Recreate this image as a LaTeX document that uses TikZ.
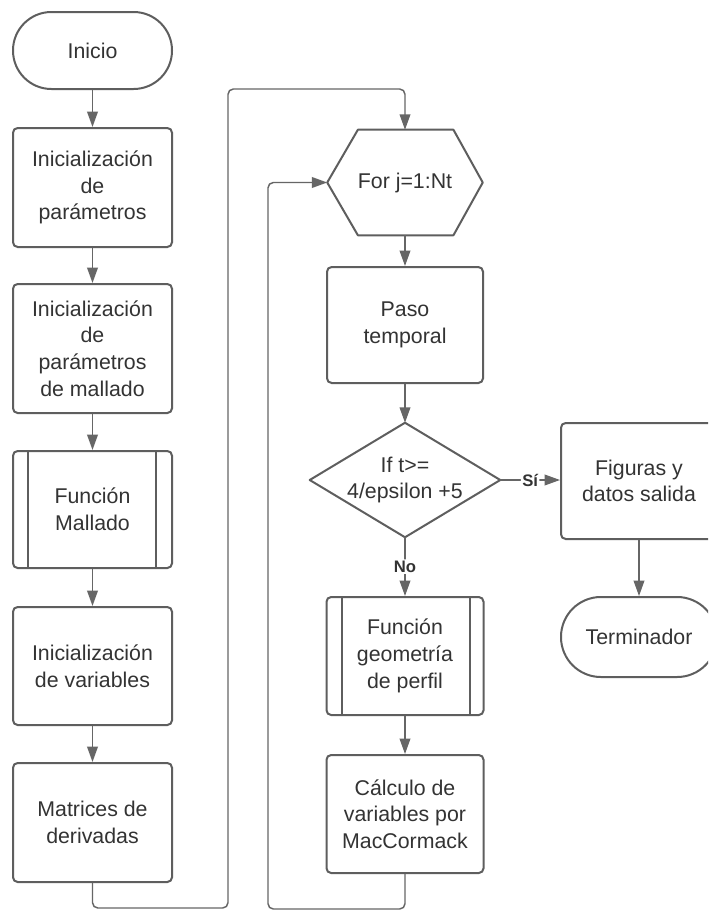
\documentclass[tikz,border=0pt]{standalone}
\usepackage{fontspec}
\setmainfont{Liberation Sans}
\usetikzlibrary{arrows.meta}
\definecolor{edgecol}{HTML}{5E5E5E}
\definecolor{linecol}{HTML}{666666}
\definecolor{txtcol}{HTML}{333333}
\tikzset{
  txt/.style={align=center, text=txtcol, inner sep=0pt, font=\fontsize{16}{20}\selectfont},
  box/.style={txt, draw=edgecol, line width=1.5pt, rounded corners=3.5pt},
  shp/.style={draw=edgecol, line width=1.5pt, line join=round},
  flow/.style={draw=linecol, line width=1.1pt, rounded corners=4pt, -{Triangle[length=11.5pt,width=8pt]}},
  lbl/.style={fill=white, text=txtcol, inner sep=1pt, font=\bfseries\fontsize{12.5}{14}\selectfont}
}
\begin{document}
\begin{tikzpicture}[x=0.75pt,y=-0.75pt]
\useasboundingbox (0,0) rectangle (708,910);
\clip (0,0) rectangle (708,910);
\fill[white] (0,0) rectangle (708,910);

% left column
\node[box, rounded corners=28.8pt, minimum width=119.25pt, minimum height=57.75pt] (ini) at (92.5,50.5) {Inicio};
\node[box, minimum width=119.25pt, minimum height=89.25pt] (b1) at (92.5,187.5) {Inicialización\\de\\parámetros};
\node[box, minimum width=119.25pt, minimum height=96.75pt] (b2) at (92.5,348.5) {Inicialización\\de\\parámetros\\de mallado};
\node[box, minimum width=119.25pt, minimum height=87.75pt] (b3) at (92.5,509.5) {Función\\Mallado};
\draw[shp] ([xshift=12pt]b3.north west) -- ([xshift=12pt]b3.south west);
\draw[shp] ([xshift=-13pt]b3.north east) -- ([xshift=-13pt]b3.south east);
\node[box, minimum width=119.25pt, minimum height=88.5pt] (b4) at (92.5,666) {Inicialización\\de variables};
\node[box, minimum width=119.25pt, minimum height=89.25pt] (b5) at (92.5,822.5) {Matrices de\\derivadas};

% right column
\node[txt, minimum width=116.25pt, minimum height=78.75pt] (hex) at (405,182.5) {For j=1:Nt};
\draw[shp] ([xshift=23pt]hex.north west) -- ([xshift=-22pt]hex.north east) -- (hex.east)
  -- ([xshift=-22pt]hex.south east) -- ([xshift=23pt]hex.south west) -- (hex.west) -- cycle;
\node[box, minimum width=117pt, minimum height=87pt] (paso) at (405,325) {Paso\\temporal};
\node[txt, minimum width=142.5pt, minimum height=85.5pt] (dia) at (405,480) {If t>=\\4/epsilon +5};
\draw[shp] (dia.north) -- (dia.east) -- (dia.south) -- (dia.west) -- cycle;
\node[box, minimum width=117.75pt, minimum height=88.5pt] (geo) at (405,656) {Función\\geometría\\de perfil};
\draw[shp] ([xshift=12pt]geo.north west) -- ([xshift=12pt]geo.south west);
\draw[shp] ([xshift=-11pt]geo.north east) -- ([xshift=-11pt]geo.south east);
\node[box, minimum width=117.75pt, minimum height=88.5pt] (calc) at (405,814) {Cálculo de\\variables por\\MacCormack};

% far right
\node[box, minimum width=117pt, minimum height=87pt] (fig) at (639,481) {Figuras y\\datos salida};
\node[box, rounded corners=29.9pt, minimum width=117pt, minimum height=60pt] (term) at (639,637) {Terminador};

% coordinates for loops
\coordinate (la) at (228,908);
\coordinate (lc) at (228,89);
\coordinate (lb) at (268,909);

% connectors
\draw[flow] (ini) -- (b1);
\draw[flow] (b1) -- (b2);
\draw[flow] (b2) -- (b3);
\draw[flow] (b3) -- (b4);
\draw[flow] (b4) -- (b5);
\draw[flow] (b5.south) |- (la) -- (lc) -| (hex.north);
\draw[flow] (hex.south) -- (paso.north);
\draw[flow] (paso.south) -- (dia.north);
\draw[flow] (dia.east) -- node[lbl]{Sí} (dia.east -| fig.west);
\draw[flow] (dia.south) -- node[lbl]{No} (geo.north);
\draw[flow] (geo.south) -- (calc.north);
\draw[flow] (calc.south) |- (lb) |- (hex.west);
\draw[flow] (fig.south) -- (term.north);
\end{tikzpicture}
\end{document}
